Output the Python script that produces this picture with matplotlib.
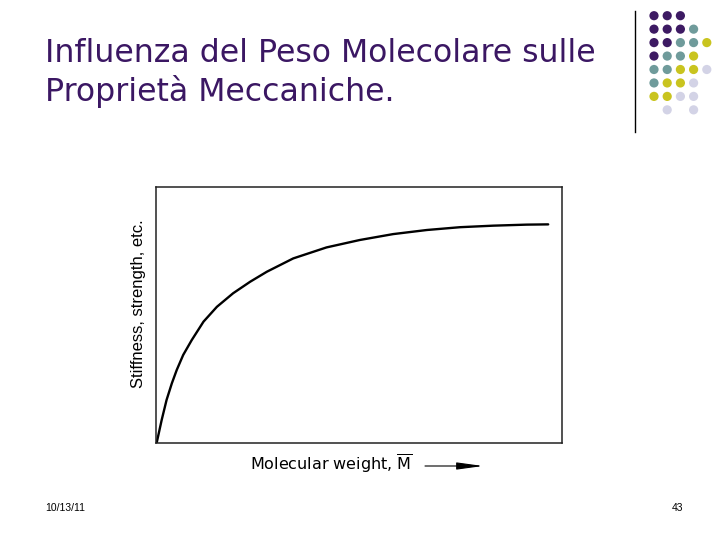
import matplotlib
matplotlib.use("Agg")
import matplotlib.pyplot as plt
from matplotlib.patches import Circle, FancyArrowPatch

plt.rcParams['font.family'] = ['Liberation Sans', 'DejaVu Sans']
plt.rcParams['mathtext.fontset'] = 'custom'
plt.rcParams['mathtext.rm'] = 'DejaVu Sans'
plt.rcParams['mathtext.it'] = 'DejaVu Sans'

# Curve data (relative molecular weight vs relative property)
mol_weight = [0.0017, 0.014, 0.026, 0.039, 0.051, 0.067, 0.088, 0.117, 0.150,
              0.190, 0.232, 0.273, 0.338, 0.420, 0.502, 0.584, 0.667, 0.749,
              0.831, 0.913, 0.966]
property_val = [0.001, 0.090, 0.168, 0.233, 0.285, 0.344, 0.402, 0.474, 0.532,
                0.585, 0.630, 0.669, 0.721, 0.764, 0.793, 0.816, 0.832, 0.843,
                0.849, 0.853, 0.854]

title_line1 = "Influenza del Peso Molecolare sulle"
title_line2 = "Proprietà Meccaniche."
x_label = r"Molecular weight, $\overline{\mathrm{M}}$"
y_label = "Stiffness, strength, etc."
footer_date = "10/13/11"
page_no = "43"

# Decorative dot grid (rows top to bottom)
P, T, Y, L = "#3d1a63", "#6f9b9b", "#c9c41f", "#d3d3e6"
dot_rows = [
    [P, P, P, None, None],
    [P, P, P, T, None],
    [P, P, T, T, Y],
    [P, T, T, Y, None],
    [T, T, Y, Y, L],
    [T, Y, Y, L, None],
    [Y, Y, L, L, None],
    [None, L, None, L, None],
]

W, H = 728, 546
fig = plt.figure(figsize=(W / 100, H / 100), dpi=100)
fig.patch.set_facecolor("white")

deco = fig.add_axes([0, 0, 1, 1])
deco.set_xlim(0, W)
deco.set_ylim(H, 0)
deco.axis("off")

for r, row in enumerate(dot_rows):
    for c, col in enumerate(row):
        if col is None:
            continue
        cx = 654 + c * 13.2
        cy = 15.7 + r * 13.45
        deco.add_patch(Circle((cx, cy), 4.6, color=col, lw=0))

deco.plot([635, 635], [11, 132], color="black", lw=1.0)

title_color = "#3b1763"
deco.text(45, 62, title_line1, color=title_color, fontsize=22.7, ha="left",
          va="baseline", family="DejaVu Sans")
deco.text(45, 101.5, title_line2, color=title_color, fontsize=22.7, ha="left",
          va="baseline", family="DejaVu Sans")

deco.text(45, 511, footer_date, fontsize=7.5, color="black", ha="left", va="baseline")
deco.text(683, 511, page_no, fontsize=7.5, color="black", ha="right", va="baseline")

left, right, top, bottom = 156, 562, 187, 443
ax = fig.add_axes([left / W, 1 - bottom / H, (right - left) / W, (bottom - top) / H])
ax.plot(mol_weight, property_val, color="black", lw=1.7, solid_capstyle="round",
        solid_joinstyle="round")
ax.set_xlim(0, 1)
ax.set_ylim(0, 1)
ax.set_xticks([])
ax.set_yticks([])
for s in ax.spines.values():
    s.set_linewidth(1.1)
    s.set_color("#222222")
ax.set_zorder(2)

deco.text(139, 304, y_label, rotation=90, fontsize=12, ha="center", va="center")
deco.text(250, 470, x_label, fontsize=11.5, ha="left", va="baseline",
          family="DejaVu Sans")
deco.add_patch(FancyArrowPatch((425, 466), (483, 466),
                               arrowstyle="-|>,head_length=16,head_width=2.2",
                               color="black", lw=0.8, mutation_scale=1,
                               shrinkA=0, shrinkB=0))

fig.savefig("out.png", dpi=100)
